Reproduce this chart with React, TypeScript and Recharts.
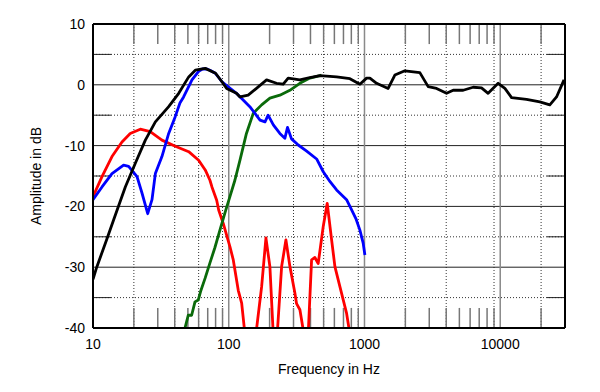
import React from 'react';
import { LineChart, Line, XAxis, YAxis, CartesianGrid, ReferenceLine } from 'recharts';

// Frequency (Hz) / level (dB) pairs
const blackFreq = [10, 10.65, 12.6, 14.2, 17.3, 20.5, 24.3, 28.8, 36.1, 42.8, 50.7, 56.7, 67.1, 80, 89.1, 96.5, 114, 121, 139, 160, 190, 225, 252, 274, 334, 396, 470, 623, 781, 925, 1036, 1096, 1228, 1494, 1674, 1984, 2557, 2945, 3396, 4024, 4500, 5333, 6316, 7278, 8144, 9654, 10820, 12120, 15620, 19580, 23190, 25990, 29500];
const blackDb = [-32, -30, -25.5, -22.2, -16.8, -12.9, -9.1, -6.1, -3.6, -1.4, 1.3, 2.4, 2.7, 1.9, 0.5, -0.6, -1.4, -2.0, -1.7, -0.6, 0.8, 0.25, 0.1, 1.1, 0.8, 1.2, 1.5, 1.3, 1.0, 0.1, 1.1, 1.1, 0.25, -0.6, 1.6, 2.3, 2.0, -0.3, -0.6, -1.4, -0.9, -0.9, -0.4, -0.5, -1.4, 0.25, -0.6, -2.1, -2.4, -2.8, -3.3, -2.0, 0.8];

const blueFreq = [10, 11.65, 13.8, 16.8, 18.3, 21.1, 22.95, 25.3, 27.2, 28.8, 32.2, 36.1, 40.4, 43.7, 46.5, 53.6, 60, 64, 69.1, 72.7, 79.6, 89.1, 114, 143, 170, 185, 195, 213, 238, 259, 271, 290, 325, 375, 444, 497, 556, 623, 738, 781, 864, 925, 977, 1007];
const blueDb = [-18.9, -16.8, -14.6, -13.2, -13.4, -15.1, -17.8, -21.2, -18.9, -14.6, -11.8, -8, -5.2, -3, -2, 0.8, 2.2, 2.6, 2.6, 2.4, 1.9, 0.5, -1.4, -3.6, -5.8, -6.1, -5.0, -6.6, -8, -8.8, -7.0, -8.9, -9.9, -10.9, -12.2, -14.3, -15.9, -17.3, -18.9, -20, -22, -23.9, -26, -28];

const redFreq = [10, 11.65, 13.8, 16.35, 18.8, 22.3, 26.4, 32.2, 40.4, 50.7, 60, 67.1, 72.7, 75.2, 81.5, 84.3, 91.1, 102, 108, 117.5, 124.5, 131.6, 143, 158.6, 174.7, 187.9, 201, 212.7, 218, 227.6, 245.2, 263.8, 282.3, 307.3, 316, 334.4, 357.9, 372, 384.9, 407.7, 431.2, 456, 496.6, 531.5, 572.5, 605.5, 659, 738.4, 780.6, 800];
const redDb = [-18.4, -15.1, -11.8, -9.4, -8, -7.3, -7.7, -9.1, -10.1, -11, -12.4, -14, -15.7, -16.8, -19, -20.6, -22.8, -26.6, -28.8, -33.8, -35.9, -41, -46, -41, -33.2, -25.2, -29.9, -41, -45, -41, -29.9, -25.5, -29.9, -34.3, -36, -37, -41, -45, -41, -28.8, -28.4, -29.4, -23.3, -19.5, -25.5, -29.9, -33.2, -37.6, -41, -45];

const greenFreq = [46, 47.6, 50.3, 53.3, 56.4, 59.6, 62, 67, 72.7, 79, 86.1, 94, 102, 111, 121, 135, 151.5, 174.7, 201, 238, 282, 334, 396, 470, 483];
const greenDb = [-42, -40, -37.9, -37.9, -35.7, -35.4, -34, -31.8, -29.3, -26.8, -23.9, -21, -18.4, -15.7, -12.4, -8, -4.7, -3.3, -2.2, -1.7, -0.9, 0.25, 1.1, 1.5, 1.6];

const xTicks = [10, 100, 1000, 10000];
const yTicks = [-40, -30, -20, -10, 0, 10];
const minorFreqs = [20, 30, 40, 50, 60, 70, 80, 90, 200, 300, 400, 500, 600, 700, 800, 900, 2000, 3000, 4000, 5000, 6000, 7000, 8000, 9000, 20000];
const majorFreqs = [100, 1000, 10000];
const solidLevels = [-30, -20, -10, 0];
const dottedLevels = [-35, -25, -15, -5, 5];

const zip = (f: number[], d: number[]) => f.map((v, i) => ({ f: v, db: d[i] }));

const series = [
  { name: 'red', data: zip(redFreq, redDb), color: '#ff0000' },
  { name: 'green', data: zip(greenFreq, greenDb), color: '#0a6a0a' },
  { name: 'blue', data: zip(blueFreq, blueDb), color: '#0000ff' },
  { name: 'black', data: zip(blackFreq, blackDb), color: '#000000' },
];

const font = '"Liberation Sans", Arial, sans-serif';

export default function App() {
  return (
    <div style={{ position: 'absolute', left: 0, top: 0, width: 600, height: 392, background: '#fff', fontFamily: font }}>
      <LineChart width={600} height={392} margin={{ top: 24, right: 35, left: 0, bottom: 0 }}>
        <XAxis
          dataKey="f"
          type="number"
          scale="log"
          domain={[10, 30000]}
          allowDataOverflow
          ticks={xTicks}
          tickSize={0}
          tickMargin={11}
          axisLine={false}
          height={64}
          tick={{ fill: '#000', fontSize: 14, fontFamily: font }}
        />
        <YAxis
          type="number"
          domain={[-40, 10]}
          allowDataOverflow
          ticks={yTicks}
          tickSize={0}
          tickMargin={8}
          axisLine={false}
          width={93}
          tick={{ fill: '#000', fontSize: 14, fontFamily: font }}
        />
        <CartesianGrid horizontal={false} verticalValues={minorFreqs} stroke="#333" strokeDasharray="1 2" />
        <CartesianGrid vertical={false} horizontalValues={dottedLevels} stroke="#333" strokeDasharray="1 2" />
        <CartesianGrid vertical={false} horizontalValues={solidLevels} stroke="#222" />
        <CartesianGrid horizontal={false} verticalValues={majorFreqs} stroke="#8a8a8a" strokeWidth={1.5} />
        {minorFreqs.map((f) => (
          <ReferenceLine key={'t' + f} segment={[{ x: f, y: 10 }, { x: f, y: 6.7 }]} stroke="#777" strokeWidth={1.5} />
        ))}
        {minorFreqs.map((f) => (
          <ReferenceLine key={'b' + f} segment={[{ x: f, y: -40 }, { x: f, y: -36.7 }]} stroke="#777" strokeWidth={1.5} />
        ))}
        {dottedLevels.map((v) => (
          <ReferenceLine key={'l' + v} segment={[{ x: 10, y: v }, { x: 13.6, y: v }]} stroke="#222" />
        ))}
        {dottedLevels.map((v) => (
          <ReferenceLine key={'r' + v} segment={[{ x: 22100, y: v }, { x: 30000, y: v }]} stroke="#222" />
        ))}
        {series.map((s) => (
          <Line
            key={s.name}
            data={s.data}
            dataKey="db"
            type="linear"
            stroke={s.color}
            strokeWidth={2.8}
            strokeLinejoin="round"
            dot={false}
            activeDot={false}
            isAnimationActive={false}
          />
        ))}
        <ReferenceLine y={10} stroke="#000" strokeWidth={2} />
        <ReferenceLine y={-40} stroke="#000" strokeWidth={2} />
        <ReferenceLine x={10} stroke="#000" strokeWidth={2} />
        <ReferenceLine x={30000} stroke="#000" strokeWidth={2} />
      </LineChart>
      <div style={{ position: 'absolute', left: 329, top: 361, transform: 'translateX(-50%)', fontSize: 14, whiteSpace: 'nowrap', color: '#000' }}>
        Frequency in Hz
      </div>
      <div style={{ position: 'absolute', left: 36, top: 176, transform: 'translate(-50%, -50%) rotate(-90deg)', fontSize: 14, whiteSpace: 'nowrap', color: '#000' }}>
        Amplitude in dB
      </div>
    </div>
  );
}
